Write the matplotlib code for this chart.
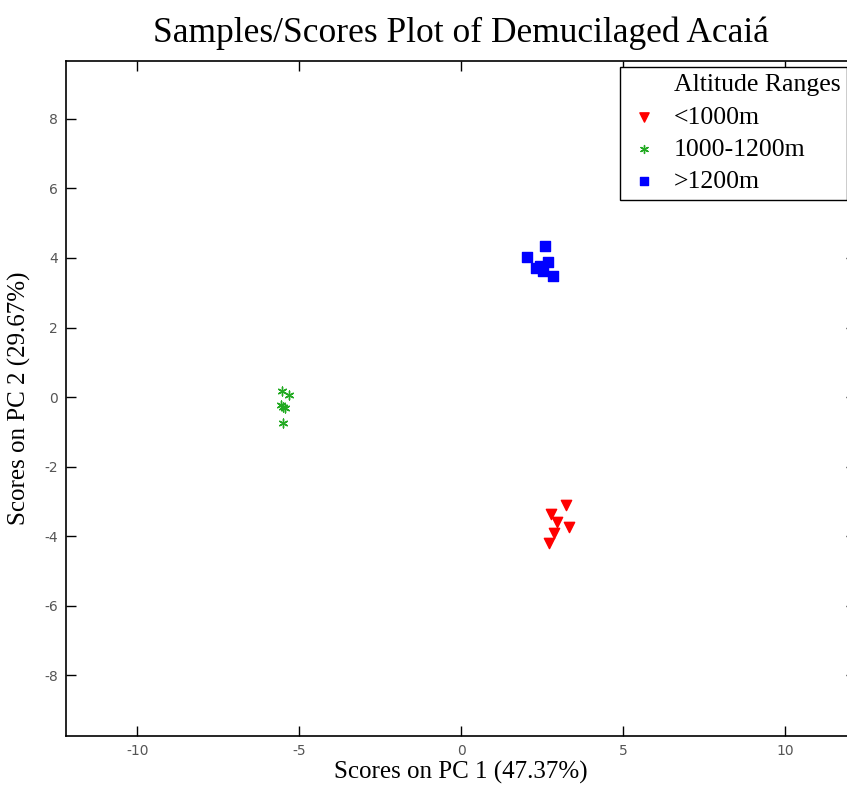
import numpy as np
import matplotlib
matplotlib.use("Agg")
import matplotlib.pyplot as plt
from matplotlib.lines import Line2D

plt.rcParams["axes.unicode_minus"] = False

# PCA scores
low_x = [3.24, 2.78, 2.96, 3.33, 2.87, 2.72]
low_y = [-3.10, -3.36, -3.59, -3.74, -3.91, -4.20]
mid_x = [-5.52, -5.31, -5.56, -5.43, -5.49, -5.49]
mid_y = [0.17, 0.06, -0.23, -0.32, -0.29, -0.75]
high_x = [2.59, 2.04, 2.31, 2.69, 2.53, 2.84, 2.44]
high_y = [4.34, 4.02, 3.71, 3.88, 3.62, 3.48, 3.76]

x_ticks = [-10, -5, 0, 5, 10]
y_ticks = [-8, -6, -4, -2, 0, 2, 4, 6, 8]

serif = "Liberation Serif"

fig = plt.figure(figsize=(8.47, 7.87), dpi=100)
ax = fig.add_axes([66 / 847, 1 - 736 / 787, (856 - 66) / 847, (736 - 61) / 787])

h1 = ax.scatter(low_x, low_y, marker="v", s=55, color="#ff0000", edgecolors="#ff0000", zorder=3)
h2 = ax.scatter(mid_x, mid_y, marker=(6, 2, 0), s=40, color="#22aa22", linewidths=1.0, zorder=3)
h3 = ax.scatter(high_x, high_y, marker="s", s=50, color="#0000ff", edgecolors="#0000ff", zorder=3)

ax.set_xlim(-12.2, 12.2)
ax.set_ylim(-9.74, 9.66)
ax.set_xticks(x_ticks)
ax.set_yticks(y_ticks)
ax.tick_params(direction="in", length=7, width=1, top=True, right=True,
               labelsize=10, labelcolor="#555555", pad=6)
for s in ax.spines.values():
    s.set_linewidth(1.2)

ax.set_xlabel("Scores on PC 1 (47.37%)", fontfamily=serif, fontsize=18, labelpad=2)
ax.set_ylabel("Scores on PC 2 (29.67%)", fontfamily=serif, fontsize=18, labelpad=9)
fig.text(461 / 847, 1 - 33 / 787, "Samples/Scores Plot of Demucilaged Acaiá",
         fontfamily=serif, fontsize=25.5, ha="center", va="center")

blank = Line2D([], [], linestyle="none")
leg = ax.legend([blank, h1, h2, h3], ["Altitude Ranges", "<1000m", "1000-1200m", ">1200m"],
                loc="upper left", bbox_to_anchor=((620 - 66) / (856 - 66), 1 - 6 / 675),
                borderaxespad=0, prop={"family": serif, "size": 18.5},
                frameon=True, fancybox=False, edgecolor="black", framealpha=1,
                handlelength=1.4, handletextpad=0.45, labelspacing=0.36, borderpad=0.25,
                markerscale=0.9)
leg.get_frame().set_linewidth(1.0)

fig.savefig("out.png", dpi=100)
